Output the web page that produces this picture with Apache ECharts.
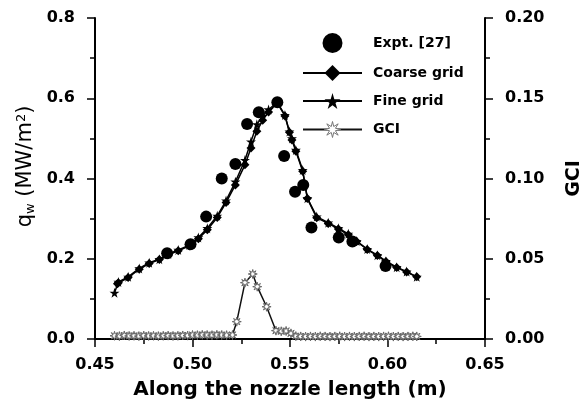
<!DOCTYPE html>
<html><head><meta charset="utf-8">
<script src="https://cdn.jsdelivr.net/npm/echarts@6/dist/echarts.min.js"></script>
<style>html,body{margin:0;padding:0;background:#fff}#c{width:581px;height:406px}</style>
</head><body><div id="c"></div>
<script>
var expX = [0.487,0.499,0.507,0.515,0.522,0.528,0.534,0.5435,0.547,0.5526,0.5568,0.561,0.575,0.582,0.599];
var expY = [0.214,0.236,0.305,0.400,0.436,0.536,0.565,0.590,0.456,0.367,0.384,0.278,0.253,0.243,0.182];

var fineX = [0.460,0.462,0.467,0.4727,0.4778,0.483,0.4876,0.4927,0.4984,0.503,0.5076,0.5127,0.5172,0.522,0.5269,0.530,0.533,0.536,0.539,0.5435,0.5474,0.5497,0.551,0.553,0.5565,0.5589,0.5637,0.5696,0.5748,0.5799,0.5842,0.5896,0.5948,0.5992,0.6047,0.6098,0.615];
var fineY = [0.115,0.142,0.155,0.176,0.190,0.199,0.212,0.222,0.234,0.253,0.276,0.307,0.345,0.392,0.446,0.492,0.535,0.556,0.572,0.590,0.558,0.517,0.500,0.471,0.421,0.351,0.305,0.290,0.276,0.262,0.244,0.224,0.209,0.194,0.179,0.168,0.155];

var coarseX = [0.4615,0.462,0.467,0.4727,0.4778,0.483,0.4876,0.4927,0.4984,0.503,0.5076,0.5127,0.5172,0.522,0.5269,0.530,0.533,0.536,0.539,0.5435,0.5474,0.5497,0.551,0.553,0.5565,0.5589,0.5637,0.5696,0.5748,0.5799,0.5842,0.5896,0.5948,0.5992,0.6047,0.6098,0.615];
var coarseY = [0.138,0.140,0.153,0.174,0.188,0.198,0.210,0.220,0.232,0.250,0.272,0.303,0.340,0.384,0.434,0.476,0.518,0.545,0.566,0.588,0.556,0.515,0.496,0.468,0.418,0.350,0.302,0.288,0.274,0.260,0.243,0.223,0.208,0.193,0.178,0.167,0.155];

var gciX = [0.460,0.4625,0.465,0.4675,0.470,0.4725,0.475,0.4775,0.480,0.4825,0.485,0.4875,0.490,0.4925,0.495,0.4975,0.500,0.5025,0.505,0.5075,0.510,0.5125,0.515,0.5175,0.5205,0.5227,0.5269,0.5309,0.5332,0.538,0.5428,0.5455,0.548,0.5505,0.553,0.5555,0.558,0.5605,0.563,0.5655,0.568,0.5705,0.573,0.5755,0.578,0.5805,0.583,0.5855,0.588,0.5905,0.593,0.5955,0.598,0.6005,0.603,0.6055,0.608,0.6105,0.613,0.615];
var gciY = [0.0020,0.0018,0.0022,0.0019,0.0020,0.0018,0.0021,0.0019,0.0020,0.0018,0.0020,0.0021,0.0019,0.0020,0.0022,0.0021,0.0025,0.0024,0.0026,0.0025,0.0024,0.0026,0.0025,0.0024,0.0025,0.0108,0.0351,0.0405,0.0326,0.0201,0.0052,0.0048,0.0050,0.0035,0.0018,0.0016,0.0015,0.0016,0.0015,0.0017,0.0016,0.0015,0.0016,0.0017,0.0015,0.0016,0.0015,0.0016,0.0017,0.0015,0.0016,0.0015,0.0016,0.0017,0.0015,0.0016,0.0015,0.0016,0.0017,0.0016];

var xTicks = ['0.45','0.50','0.55','0.60','0.65'];
var yLeftTicks = ['0.0','0.2','0.4','0.6','0.8'];
var yRightTicks = ['0.00','0.05','0.10','0.15','0.20'];

function pairs(xs, ys){ return xs.map(function(x,i){return [x, ys[i]];}); }

var FONT = '"DejaVu Sans", Verdana, sans-serif';
var starPath = 'path://M50,0 L61,35 L98,35 L68,57 L79,91 L50,70 L21,91 L32,57 L2,35 L39,35 Z';
var gciStar = 'path://M50,0 L57.7,31.5 L85.4,14.6 L68.5,42.3 L100,50 L68.5,57.7 L85.4,85.4 L57.7,68.5 L50,100 L42.3,68.5 L14.6,85.4 L31.5,57.7 L0,50 L31.5,42.3 L14.6,14.6 L42.3,31.5 Z';

var axisCommon = {
  axisLine: {show: true, onZero: false, lineStyle: {color: '#000', width: 2}},
  axisTick: {show: true, inside: false, length: 8, lineStyle: {color: '#000', width: 1.5}},
  minorTick: {show: true, splitNumber: 2, length: 5, lineStyle: {color: '#000', width: 1.5}},
  splitLine: {show: false},
  axisLabel: {color: '#000', fontFamily: FONT, fontWeight: 'bold', fontSize: 16}
};

var chart = echarts.init(document.getElementById('c'));
chart.setOption({
  backgroundColor: '#fff',
  animation: false,
  grid: {left: 95, right: 96, top: 18, bottom: 67, containLabel: false, outerBoundsMode: 'none'},
  legend: {
    orient: 'vertical', left: 302, top: 33, padding: 0, itemWidth: 59, itemHeight: 20, itemGap: 12,
    textStyle: {color: '#000', fontFamily: FONT, fontWeight: 'bold', fontSize: 14, padding: [0,0,0,6]},
    data: ['Expt. [27]', 'Coarse grid', 'Fine grid',
      {name: 'GCI', itemStyle: {color: '#fff', borderColor: '#777', borderWidth: 1}}]
  },
  xAxis: Object.assign({}, axisCommon, {
    type: 'value', min: 0.45, max: 0.65, interval: 0.05,
    axisLabel: Object.assign({}, axisCommon.axisLabel, {margin: 18, formatter: function(v){ var i = Math.round((v-0.45)/0.05); return xTicks[i]; }}),
    name: 'Along the nozzle length (m)', nameLocation: 'middle', nameGap: 41, nameMoveOverlap: false,
    nameTextStyle: {color: '#000', fontFamily: FONT, fontWeight: 'bold', fontSize: 20}
  }),
  yAxis: [
    Object.assign({}, axisCommon, {
      type: 'value', min: 0, max: 0.8, interval: 0.2, position: 'left',
      axisLabel: Object.assign({}, axisCommon.axisLabel, {margin: 20, formatter: function(v){ return yLeftTicks[Math.round(v/0.2)]; }}),
      name: '{a|q}{s|w}{a| (MW/m}{p|2}{a|)}', nameLocation: 'middle', nameGap: 58, nameRotate: 90, nameMoveOverlap: false,
      nameTextStyle: {padding: [0,0,0,24], rich: {
        a: {fontFamily: FONT, fontSize: 21, color: '#000'},
        s: {fontFamily: FONT, fontSize: 13, color: '#000', verticalAlign: 'bottom', padding: [9,0,0,0]},
        p: {fontFamily: FONT, fontSize: 13, color: '#000', verticalAlign: 'top', padding: [0,0,9,0]}
      }}
    }),
    Object.assign({}, axisCommon, {
      type: 'value', min: 0, max: 0.2, interval: 0.05, position: 'right',
      axisLabel: Object.assign({}, axisCommon.axisLabel, {margin: 20, formatter: function(v){ return yRightTicks[Math.round(v/0.05)]; }}),
      name: 'GCI', nameLocation: 'middle', nameGap: 80, nameRotate: 90, nameMoveOverlap: false,
      nameTextStyle: {color: '#000', fontFamily: FONT, fontWeight: 'bold', fontSize: 19}
    })
  ],
  series: [
    {
      name: 'Expt. [27]', type: 'scatter', data: pairs(expX, expY),
      symbol: 'circle', symbolSize: 12, itemStyle: {color: '#000', opacity: 1}, z: 3
    },
    {
      name: 'Coarse grid', type: 'line', data: pairs(coarseX, coarseY),
      symbol: 'diamond', symbolSize: 9, showAllSymbol: true,
      itemStyle: {color: '#000'}, lineStyle: {color: '#000', width: 1.5}, z: 4
    },
    {
      name: 'Fine grid', type: 'line', data: pairs(fineX, fineY),
      symbol: starPath, symbolSize: 10, showAllSymbol: true,
      itemStyle: {color: '#000'}, lineStyle: {color: '#000', width: 1.5}, z: 5
    },
    {
      name: 'GCI', type: 'line', yAxisIndex: 1, data: pairs(gciX, gciY),
      symbol: gciStar, symbolSize: 9, showAllSymbol: true,
      itemStyle: {color: '#fff', borderColor: '#666', borderWidth: 1},
      lineStyle: {color: '#111', width: 1.5}, z: 4
    }
  ]
});
</script></body></html>
